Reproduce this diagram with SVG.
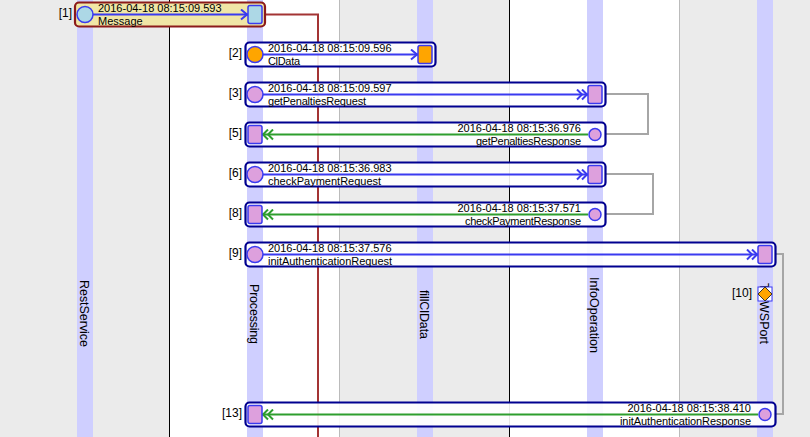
<svg xmlns="http://www.w3.org/2000/svg" width="810" height="437" viewBox="0 0 810 437">
<defs>
<marker id="ab" markerUnits="userSpaceOnUse" markerWidth="14" markerHeight="12" refX="11" refY="6" orient="auto"><path d="M4 1L10 6L4 11" fill="none" stroke="#3a3af0" stroke-width="2"/></marker>
<marker id="abb" markerUnits="userSpaceOnUse" markerWidth="16" markerHeight="12" refX="13" refY="6" orient="auto"><path d="M2 1L7 6L2 11M7 1L12 6L7 11" fill="none" stroke="#3a3af0" stroke-width="2"/></marker>
<marker id="agg" markerUnits="userSpaceOnUse" markerWidth="16" markerHeight="12" refX="13" refY="6" orient="auto"><path d="M2 1L7 6L2 11M7 1L12 6L7 11" fill="none" stroke="#2e9e2e" stroke-width="2"/></marker>
</defs>
<style>
text{font-family:"Liberation Sans",Arial,sans-serif;font-size:11px;fill:#000}
.e{text-anchor:end}
.n{font-size:12px}
.v{font-size:12.5px}
.lane{fill:#cfcfff}
.band{fill:#ebebeb}
.box{fill:#fff;fill-opacity:.9;stroke:#000090;stroke-width:2.2}
.red{fill:#f0e6a6;fill-opacity:1;stroke:#8b1a1a;stroke-width:2.2}
.c{stroke:#3a3af0;stroke-width:1.5}
.sq{stroke:#3a3af0;stroke-width:1.5}
.f{stroke:#3a3af0;stroke-width:2;fill:none}
.g{stroke:#2e9e2e;stroke-width:2;fill:none}
.conn{fill:none;stroke:#a6a6a6;stroke-width:2}
.plum{fill:#dda0dd}
</style>
<rect class="band" x="0" y="0" width="169" height="437"/>
<rect class="band" x="339" y="0" width="170" height="437"/>
<rect class="band" x="679" y="0" width="131" height="437"/>
<path d="M169.500 0V437M509.500 0V437" stroke="#000" fill="none"/>
<path d="M339.500 0V437M679.500 0V437" stroke="#bbb" fill="none"/>
<g id="lanes">
<rect class="lane" x="77" y="0" width="16" height="437"/>
<rect class="lane" x="247" y="0" width="16" height="437"/>
<rect class="lane" x="417" y="0" width="16" height="437"/>
<rect class="lane" x="587" y="0" width="16" height="437"/>
<rect class="lane" x="757" y="0" width="16" height="437"/>
<text class="v" transform="translate(80,280) rotate(90)" textLength="67">RestService</text>
<text class="v" transform="translate(250,284) rotate(90)" textLength="60">Processing</text>
<text class="v" transform="translate(420,290) rotate(90)" textLength="49">fillClData</text>
<text class="v" transform="translate(590,277) rotate(90)" textLength="76">InfoOperation</text>
<text class="v" transform="translate(760,283) rotate(90)">T<tspan x="18">WSPort</tspan></text>
</g>
<g id="connectors">
<path d="M265 14.500H318V437" fill="none" stroke="#a33434" stroke-width="2"/>
<path class="conn" d="M605 94H648V134H605"/>
<path class="conn" d="M605 174H653V214H605"/>
<path class="conn" d="M775 254H783V414H773"/>
</g>
<g id="n1">
<rect class="box red" x="75" y="2.500" width="190" height="24" rx="4"/>
<path class="f" d="M93 14.500H248" marker-end="url(#ab)"/>
<circle class="c" cx="85" cy="14.500" r="8" fill="#add8e6"/>
<rect class="sq" x="248" y="5.500" width="14" height="18" rx="2" fill="#add8e6"/>
<text x="98" y="12">2016-04-18 08:15:09.593</text>
<text x="98" y="25">Message</text>
<text class="e n" x="72" y="17">[1]</text>
</g>
<g id="n2">
<rect class="box" x="245.500" y="42.500" width="190" height="24" rx="4"/>
<path class="f" d="M263 54.500H418" marker-end="url(#ab)"/>
<circle class="c" cx="255" cy="54.500" r="8" fill="#ffa500"/>
<rect class="sq" x="418" y="45.500" width="14" height="18" rx="2" fill="#ffa500"/>
<text x="268" y="52">2016-04-18 08:15:09.596</text>
<text x="268" y="65" textLength="32">ClData</text>
<text class="e n" x="242" y="57">[2]</text>
</g>
<g id="n3">
<rect class="box" x="245.500" y="82.500" width="360" height="24" rx="4"/>
<path class="f" d="M263 94.500H588" marker-end="url(#abb)"/>
<circle class="c plum" cx="255" cy="94.500" r="8"/>
<rect class="sq plum" x="588" y="85.500" width="14" height="18" rx="2"/>
<text x="268" y="92">2016-04-18 08:15:09.597</text>
<text x="268" y="105" textLength="98">getPenaltiesRequest</text>
<text class="e n" x="242" y="97">[3]</text>
</g>
<g id="n5">
<rect class="box" x="245.500" y="122.500" width="360" height="24" rx="4"/>
<path class="g" d="M588 134.500H262" marker-end="url(#agg)"/>
<rect class="sq plum" x="248" y="125.500" width="14" height="18" rx="2"/>
<circle class="c plum" cx="595" cy="134.500" r="6"/>
<text class="e" x="581" y="132">2016-04-18 08:15:36.976</text>
<text class="e" x="581" y="145" textLength="105">getPenaltiesResponse</text>
<text class="e n" x="242" y="137">[5]</text>
</g>
<g id="n6">
<rect class="box" x="245.500" y="162.500" width="360" height="24" rx="4"/>
<path class="f" d="M263 174.500H588" marker-end="url(#abb)"/>
<circle class="c plum" cx="255" cy="174.500" r="8"/>
<rect class="sq plum" x="588" y="165.500" width="14" height="18" rx="2"/>
<text x="268" y="172">2016-04-18 08:15:36.983</text>
<text x="268" y="185">checkPaymentRequest</text>
<text class="e n" x="242" y="177">[6]</text>
</g>
<g id="n8">
<rect class="box" x="245.500" y="202.500" width="360" height="24" rx="4"/>
<path class="g" d="M588 214.500H262" marker-end="url(#agg)"/>
<rect class="sq plum" x="248" y="205.500" width="14" height="18" rx="2"/>
<circle class="c plum" cx="595" cy="214.500" r="6"/>
<text class="e" x="581" y="212">2016-04-18 08:15:37.571</text>
<text class="e" x="581" y="225" textLength="116">checkPaymentResponse</text>
<text class="e n" x="242" y="217">[8]</text>
</g>
<g id="n9">
<rect class="box" x="245.500" y="242.500" width="530" height="24" rx="4"/>
<path class="f" d="M263 254.500H758" marker-end="url(#abb)"/>
<circle class="c plum" cx="255" cy="254.500" r="8"/>
<rect class="sq plum" x="758" y="245.500" width="14" height="18" rx="2"/>
<text x="268" y="252">2016-04-18 08:15:37.576</text>
<text x="268" y="265" textLength="124">initAuthenticationRequest</text>
<text class="e n" x="242" y="257">[9]</text>
</g>
<g id="n10">
<rect x="758" y="287" width="14" height="14" fill="#fff" stroke="#3a3af0"/>
<path d="M765 287L772 294L765 301L758 294Z" fill="#ffa500" stroke="#333"/>
<text class="e n" x="752" y="297">[10]</text>
</g>
<g id="n13">
<rect class="box" x="245.500" y="402.500" width="530" height="24" rx="4"/>
<path class="g" d="M758 414.500H262" marker-end="url(#agg)"/>
<rect class="sq plum" x="248" y="405.500" width="14" height="18" rx="2"/>
<circle class="c plum" cx="765" cy="414.500" r="6"/>
<text class="e" x="751" y="412">2016-04-18 08:15:38.410</text>
<text class="e" x="751" y="425" textLength="131">initAuthenticationResponse</text>
<text class="e n" x="242" y="417">[13]</text>
</g>
</svg>
